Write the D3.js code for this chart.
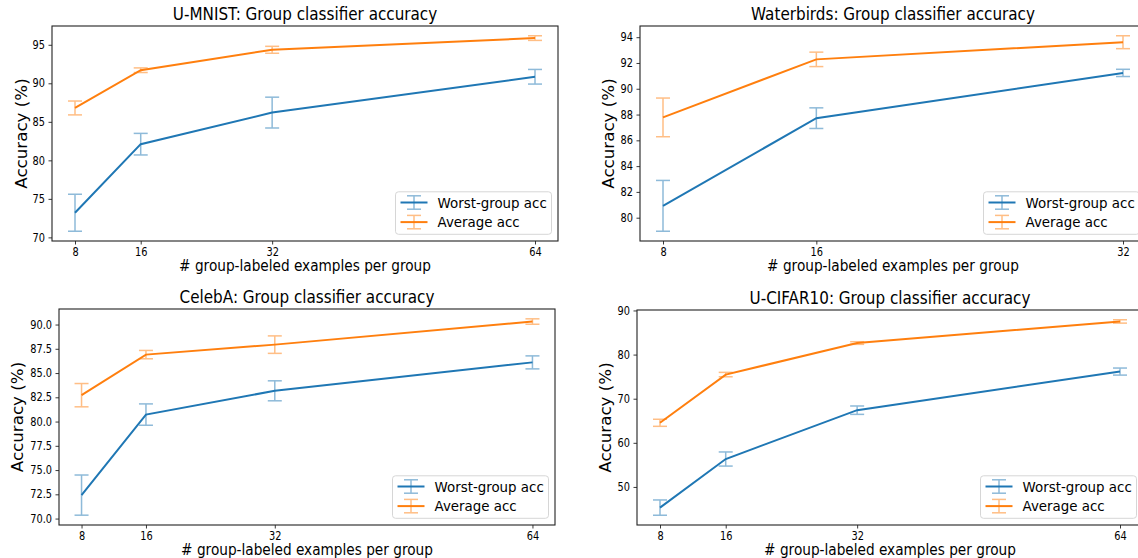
<!DOCTYPE html>
<html>
<head>
<meta charset="utf-8">
<script src="https://cdn.jsdelivr.net/npm/d3@7"></script>
<style>
  body { margin: 0; background: #fff; }
  svg { display: block; }
  text { font-family: "DejaVu Sans", sans-serif; fill: #000; }
</style>
</head>
<body>
<svg id="chart" width="1138" height="558"></svg>
<script>
// group-labeled examples per group
let xsFour = [8, 16, 32, 64];
let xsThree = [8, 16, 32];

// U-MNIST
let mnistWorst = [73.2, 82.1, 86.2, 90.85];
let mnistWorstErr = [2.4, 1.4, 2.0, 0.95];
let mnistAvg = [86.8, 91.7, 94.35, 95.87];
let mnistAvgErr = [0.9, 0.3, 0.45, 0.3];
let mnistTicks = [70, 75, 80, 85, 90, 95];

// Waterbirds
let birdsWorst = [80.92, 87.72, 91.23];
let birdsWorstErr = [1.97, 0.8, 0.28];
let birdsAvg = [87.78, 92.28, 93.61];
let birdsAvgErr = [1.5, 0.56, 0.5];
let birdsTicks = [80, 82, 84, 86, 88, 90, 92, 94];

// CelebA
let celebWorst = [72.42, 80.72, 83.17, 86.1];
let celebWorstErr = [2.07, 1.1, 1.03, 0.67];
let celebAvg = [82.72, 86.9, 87.93, 90.31];
let celebAvgErr = [1.2, 0.43, 0.9, 0.28];
let celebTicks = [70, 72.5, 75, 77.5, 80, 82.5, 85, 87.5, 90];

// U-CIFAR10
let cifarWorst = [45.32, 56.33, 67.4, 76.15];
let cifarWorstErr = [1.73, 1.6, 0.95, 0.8];
let cifarAvg = [64.54, 75.47, 82.62, 87.51];
let cifarAvgErr = [0.8, 0.5, 0.3, 0.38];
let cifarTicks = [50, 60, 70, 80, 90];

let seriesNames = ["Worst-group acc", "Average acc"];
let colors = ["#1f77b4", "#ff7f0e"];

// text in the picture is a little squeezed sideways
let squeeze = 0.9;
let tickSqueeze = 0.86;

let panels = [
  { title: "U-MNIST: Group classifier accuracy", xs: xsFour,
    worst: mnistWorst, worstErr: mnistWorstErr, avg: mnistAvg, avgErr: mnistAvgErr,
    ticks: mnistTicks, fmt: d3.format("d"),
    left: 52, right: 558, top: 26, bottom: 241, ylabGap: 30 },
  { title: "Waterbirds: Group classifier accuracy", xs: xsThree,
    worst: birdsWorst, worstErr: birdsWorstErr, avg: birdsAvg, avgErr: birdsAvgErr,
    ticks: birdsTicks, fmt: d3.format("d"),
    left: 640, right: 1146, top: 26, bottom: 241, ylabGap: 31 },
  { title: "CelebA: Group classifier accuracy", xs: xsFour,
    worst: celebWorst, worstErr: celebWorstErr, avg: celebAvg, avgErr: celebAvgErr,
    ticks: celebTicks, fmt: d3.format(".1f"),
    left: 59, right: 555, top: 309, bottom: 525, ylabGap: 41 },
  { title: "U-CIFAR10: Group classifier accuracy", xs: xsFour,
    worst: cifarWorst, worstErr: cifarWorstErr, avg: cifarAvg, avgErr: cifarAvgErr,
    ticks: cifarTicks, fmt: d3.format("d"),
    left: 637, right: 1143, top: 310, bottom: 525, ylabGap: 31 }
];

let svg = d3.select("#chart");

// put a squeezed text at a point
let addText = function(parent, x, y, str, size, anchor, rotate) {
  let g = parent.append("g")
    .attr("transform", "translate(" + x + "," + y + ")" + (rotate ? " rotate(-90)" : ""));
  g.append("text")
    .attr("transform", rotate ? "scale(1," + squeeze + ")" : "scale(" + squeeze + ",1)")
    .attr("text-anchor", anchor)
    .attr("font-size", size)
    .text(str);
  return g;
}

let drawPanel = function(p) {
  let g = svg.append("g");

  let xr = d3.extent(p.xs);
  let xpad = (xr[1] - xr[0]) * 0.05;
  let x = d3.scaleLinear().domain([xr[0] - xpad, xr[1] + xpad]).range([p.left, p.right]);

  let lows = p.worst.map((v, i) => v - p.worstErr[i]).concat(p.avg.map((v, i) => v - p.avgErr[i]));
  let highs = p.worst.map((v, i) => v + p.worstErr[i]).concat(p.avg.map((v, i) => v + p.avgErr[i]));
  let ylo = d3.min(lows), yhi = d3.max(highs);
  let ypad = (yhi - ylo) * 0.05;
  let y = d3.scaleLinear().domain([ylo - ypad, yhi + ypad]).range([p.bottom, p.top]);

  // axes
  let xAxis = g.append("g")
    .attr("transform", "translate(0," + p.bottom + ")")
    .call(d3.axisBottom(x).tickValues(p.xs).tickFormat(d3.format("d")).tickSizeInner(3.5).tickSizeOuter(0).tickPadding(3));
  let yAxis = g.append("g")
    .attr("transform", "translate(" + p.left + ",0)")
    .call(d3.axisLeft(y).tickValues(p.ticks).tickFormat(p.fmt).tickSizeInner(3.5).tickSizeOuter(0).tickPadding(3.5));
  [xAxis, yAxis].forEach(function(a) {
    a.select(".domain").remove();
    a.selectAll(".tick line").attr("stroke", "#222").attr("stroke-width", 0.9);
    a.selectAll(".tick text")
      .attr("font-size", 11.4)
      .attr("font-family", "DejaVu Sans")
      .attr("fill", "#222");
  });
  yAxis.selectAll(".tick text").attr("x", -7 / tickSqueeze).attr("transform", "scale(" + tickSqueeze + ",1)");
  xAxis.selectAll(".tick text").attr("transform", "scale(" + tickSqueeze + ",1)");

  // error bars then lines
  let series = [
    { vals: p.worst, errs: p.worstErr, color: colors[0] },
    { vals: p.avg, errs: p.avgErr, color: colors[1] }
  ];
  let cap = 7;
  series.forEach(function(s) {
    let pts = p.xs.map((xv, i) => ({ x: xv, v: s.vals[i], e: s.errs[i] }));
    let eb = g.append("g").attr("stroke", s.color).attr("stroke-width", 1.5).attr("opacity", 0.5);
    eb.selectAll(".bar").data(pts).enter().append("line")
      .attr("x1", d => x(d.x)).attr("x2", d => x(d.x))
      .attr("y1", d => y(d.v - d.e)).attr("y2", d => y(d.v + d.e));
    eb.selectAll(".capLo").data(pts).enter().append("line")
      .attr("x1", d => x(d.x) - cap).attr("x2", d => x(d.x) + cap)
      .attr("y1", d => y(d.v - d.e)).attr("y2", d => y(d.v - d.e));
    eb.selectAll(".capHi").data(pts).enter().append("line")
      .attr("x1", d => x(d.x) - cap).attr("x2", d => x(d.x) + cap)
      .attr("y1", d => y(d.v + d.e)).attr("y2", d => y(d.v + d.e));
    g.append("path")
      .datum(pts)
      .attr("fill", "none")
      .attr("stroke", s.color)
      .attr("stroke-width", 2)
      .attr("d", d3.line().x(d => x(d.x)).y(d => y(d.v)));
  });

  // frame
  g.append("rect")
    .attr("x", p.left).attr("y", p.top)
    .attr("width", p.right - p.left).attr("height", p.bottom - p.top)
    .attr("fill", "none").attr("stroke", "#222").attr("stroke-width", 1.1);

  // labels
  addText(g, (p.left + p.right) / 2, p.top - 6.5, p.title, 16.9, "middle", false);
  addText(g, (p.left + p.right) / 2, p.bottom + 29.5, "# group-labeled examples per group", 15.2, "middle", false);
  addText(g, p.left - p.ylabGap, (p.top + p.bottom) / 2, "Accuracy (%)", 16.7, "middle", true)
    .select("text").attr("dy", "0.35em");

  // legend
  let lw = 156, lh = 42.5;
  let lx = p.right - 6.5 - lw, ly = p.bottom - 6.7 - lh;
  let leg = g.append("g").attr("transform", "translate(" + lx + "," + ly + ")");
  leg.append("rect")
    .attr("width", lw).attr("height", lh).attr("rx", 3)
    .attr("fill", "#fff").attr("fill-opacity", 0.8)
    .attr("stroke", "#d6d6d6").attr("stroke-width", 1);
  series.forEach(function(s, i) {
    let cy = 10.7 + i * 19.6;
    let hg = leg.append("g").attr("transform", "translate(18.5," + cy + ")");
    hg.append("line").attr("x1", -13.5).attr("x2", 13.5).attr("y1", 0).attr("y2", 0)
      .attr("stroke", s.color).attr("stroke-width", 2);
    let eb = hg.append("g").attr("stroke", s.color).attr("stroke-width", 1.5).attr("opacity", 0.5);
    eb.append("line").attr("x1", 0).attr("x2", 0).attr("y1", -6.7).attr("y2", 6.7);
    eb.append("line").attr("x1", -cap).attr("x2", cap).attr("y1", -6.7).attr("y2", -6.7);
    eb.append("line").attr("x1", -cap).attr("x2", cap).attr("y1", 6.7).attr("y2", 6.7);
    addText(leg, 42, cy, seriesNames[i], 14.9, "start", false)
      .select("text").attr("dy", "0.35em");
  });
}

panels.forEach(drawPanel);
</script>
</body>
</html>
